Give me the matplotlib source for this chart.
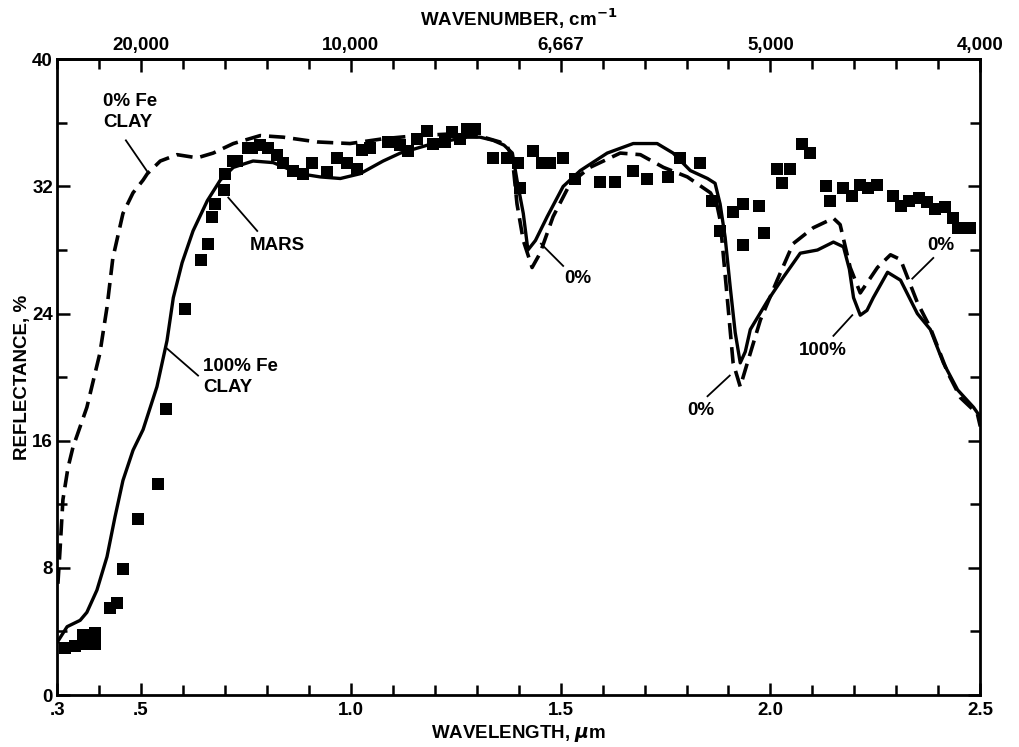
import matplotlib
matplotlib.use("Agg")
import matplotlib.pyplot as plt
import numpy as np

plt.rcParams['font.family'] = ['Liberation Sans', 'DejaVu Sans']
plt.rcParams['font.weight'] = 'bold'

# ---- data ----
mars_wl = [0.319, 0.343, 0.362, 0.362, 0.391, 0.391, 0.426, 0.443, 0.457, 0.493, 0.541,
           0.560, 0.605, 0.643, 0.660, 0.669, 0.677, 0.698, 0.700, 0.720, 0.729, 0.755,
           0.765, 0.784, 0.803, 0.824, 0.839, 0.863, 0.886, 0.908, 0.944, 0.967, 0.991,
           1.015, 1.027, 1.046, 1.089, 1.118, 1.137, 1.158, 1.182, 1.196, 1.225, 1.242,
           1.261, 1.277, 1.296, 1.339, 1.373, 1.399, 1.404, 1.435, 1.456, 1.475, 1.506,
           1.535, 1.594, 1.630, 1.673, 1.706, 1.756, 1.785, 1.833, 1.861, 1.880, 1.911,
           1.935, 1.935, 1.973, 1.985, 2.016, 2.028, 2.047, 2.076, 2.095, 2.133, 2.143,
           2.174, 2.195, 2.214, 2.233, 2.255, 2.293, 2.310, 2.329, 2.353, 2.374, 2.393,
           2.417, 2.436, 2.448, 2.476]
mars_refl = [2.96, 3.1, 3.8, 3.2, 3.9, 3.2, 5.5, 5.8, 7.9, 11.1, 13.3,
             18.0, 24.3, 27.4, 28.4, 30.1, 30.9, 31.8, 32.8, 33.6, 33.6, 34.4,
             34.4, 34.6, 34.4, 34.0, 33.5, 33.0, 32.8, 33.5, 32.9, 33.8, 33.5,
             33.1, 34.3, 34.4, 34.8, 34.6, 34.2, 35.0, 35.5, 34.7, 34.8, 35.4,
             35.0, 35.6, 35.6, 33.8, 33.8, 33.5, 31.9, 34.2, 33.5, 33.5, 33.8,
             32.5, 32.3, 32.3, 33.0, 32.5, 32.6, 33.8, 33.5, 31.1, 29.2, 30.4,
             30.9, 28.3, 30.8, 29.1, 33.1, 32.2, 33.1, 34.7, 34.1, 32.0, 31.1,
             31.9, 31.4, 32.1, 31.9, 32.1, 31.4, 30.8, 31.1, 31.3, 31.0, 30.6,
             30.7, 30.0, 29.4, 29.4]

clay100_wl = [0.300, 0.324, 0.355, 0.371, 0.395, 0.419, 0.438, 0.457, 0.481, 0.505,
              0.538, 0.562, 0.577, 0.598, 0.624, 0.658, 0.689, 0.720, 0.767, 0.815,
              0.879, 0.927, 0.975, 1.022, 1.077, 1.118, 1.196, 1.277, 1.308, 1.339,
              1.365, 1.385, 1.396, 1.411, 1.422, 1.440, 1.468, 1.506, 1.547, 1.611,
              1.673, 1.730, 1.768, 1.809, 1.850, 1.868, 1.880, 1.892, 1.904, 1.916,
              1.928, 1.940, 1.952, 1.993, 2.031, 2.071, 2.112, 2.150, 2.174, 2.188,
              2.198, 2.214, 2.230, 2.245, 2.279, 2.310, 2.350, 2.381, 2.412, 2.446,
              2.484, 2.500]
clay100_refl = [3.3, 4.3, 4.7, 5.2, 6.6, 8.7, 11.2, 13.5, 15.4, 16.7,
                19.4, 22.3, 25.0, 27.2, 29.2, 31.1, 32.4, 33.2, 33.6, 33.5,
                32.8, 32.6, 32.5, 32.8, 33.6, 34.1, 34.7, 35.1, 35.1, 34.9,
                34.6, 34.1, 32.4, 30.3, 28.0, 28.6, 30.1, 32.0, 33.0, 34.1,
                34.7, 34.7, 34.1, 33.0, 32.5, 32.2, 30.9, 28.8, 25.7, 22.8,
                20.9, 21.6, 23.0, 24.8, 26.3, 27.8, 28.0, 28.5, 28.2, 26.8,
                25.0, 23.9, 24.2, 25.0, 26.6, 26.1, 24.0, 23.0, 20.9, 19.2,
                18.1, 17.5]

clay0_wl = [0.302, 0.307, 0.314, 0.326, 0.338, 0.371, 0.402, 0.419, 0.433, 0.457,
            0.481, 0.505, 0.515, 0.546, 0.586, 0.634, 0.672, 0.720, 0.784, 0.839,
            0.920, 0.998, 1.077, 1.158, 1.237, 1.316, 1.355, 1.373, 1.385, 1.396,
            1.411, 1.432, 1.451, 1.482, 1.523, 1.570, 1.642, 1.690, 1.745, 1.802,
            1.857, 1.872, 1.880, 1.897, 1.911, 1.928, 1.945, 1.976, 2.016, 2.054,
            2.102, 2.150, 2.166, 2.190, 2.214, 2.255, 2.286, 2.310, 2.350, 2.381,
            2.422, 2.453, 2.493, 2.500]
clay0_refl = [7.0, 9.1, 12.3, 14.3, 15.6, 18.1, 21.5, 24.4, 27.5, 30.3,
              31.6, 32.4, 32.8, 33.6, 34.0, 33.8, 34.1, 34.7, 35.2, 35.1,
              34.8, 34.7, 35.0, 35.2, 35.3, 35.1, 34.8, 34.5, 33.8, 30.9,
              28.6, 26.9, 27.8, 30.1, 32.2, 33.2, 34.1, 34.0, 33.2, 32.6,
              31.6, 30.9, 29.9, 25.0, 20.9, 19.4, 20.9, 23.6, 26.1, 28.4,
              29.4, 30.0, 29.6, 26.9, 25.3, 26.9, 27.7, 27.4, 24.7, 23.1,
              20.3, 18.7, 17.7, 16.9]

top_tick_wl = [0.5, 1.0, 1.5, 2.0, 2.5]
top_tick_labels = ['20,000', '10,000', '6,667', '5,000', '4,000']
bottom_tick_wl = [0.3, 0.5, 1.0, 1.5, 2.0, 2.5]
bottom_tick_labels = ['.3', '.5', '1.0', '1.5', '2.0', '2.5']
y_ticks = [0, 8, 16, 24, 32, 40]

# ---- figure ----
fs = 13.5
fig = plt.figure(figsize=(10.19, 7.47), dpi=100)
ax = fig.add_axes([0.056, 0.0696, 0.906, 0.851])

ax.plot(clay0_wl, clay0_refl, color='black', lw=2.6, ls=(0, (4.5, 2.2)))
ax.plot(clay100_wl, clay100_refl, color='black', lw=2.4, ls='-')
ax.scatter(mars_wl, mars_refl, marker='s', s=72, color='black', linewidths=0, zorder=3)

ax.set_xlim(0.3, 2.5)
ax.set_ylim(0, 40)

ax.set_xticks(bottom_tick_wl)
ax.set_xticklabels(bottom_tick_labels)
ax.set_xticks(np.arange(0.3, 2.5001, 0.1), minor=True)
ax.set_yticks(y_ticks)
ax.set_yticks(np.arange(0, 40.01, 4), minor=True)

ax.tick_params(axis='both', which='both', direction='in', width=1.8, labelsize=fs,
               top=False, right=True, labelright=False)
ax.tick_params(axis='both', which='major', length=9)
ax.tick_params(axis='both', which='minor', length=7)
ax.tick_params(axis='x', which='major', pad=5)
ax.tick_params(axis='y', which='major', pad=3)
for lab in ax.get_xticklabels() + ax.get_yticklabels():
    lab.set_fontweight('bold')

for sp in ax.spines.values():
    sp.set_linewidth(2.0)

sec = ax.secondary_xaxis('top')
sec.set_xticks(top_tick_wl)
sec.set_xticklabels(top_tick_labels)
sec.set_xticks(np.arange(0.3, 2.5001, 0.1), minor=True)
sec.tick_params(axis='x', which='both', direction='in', width=1.8, labelsize=fs, pad=4)
sec.tick_params(axis='x', which='major', length=9)
sec.tick_params(axis='x', which='minor', length=7)
sec.spines['top'].set_linewidth(2.0)
for lab in sec.get_xticklabels():
    lab.set_fontweight('bold')
sec.set_xlabel('WAVENUMBER, cm$^{\\mathbf{-1}}$', fontsize=fs, fontweight='bold', labelpad=8)

ax.set_xlabel('WAVELENGTH, $\\mu$m', fontsize=fs, fontweight='bold', labelpad=3)
ax.set_ylabel('REFLECTANCE, %', fontsize=fs, fontweight='bold', labelpad=1)

# ---- annotations ----
ax.text(0.41, 36.7, '0% Fe\nCLAY', fontsize=fs, fontweight='bold', ha='left', va='center',
        linespacing=1.3)
ax.plot([0.464, 0.516], [34.9, 32.9], color='black', lw=1.3)

ax.text(0.76, 28.3, 'MARS', fontsize=fs, fontweight='bold', ha='left', va='center')
ax.plot([0.708, 0.777], [31.3, 29.2], color='black', lw=1.3)

ax.text(0.648, 20.0, '100% Fe\nCLAY', fontsize=fs, fontweight='bold', ha='left', va='center',
        linespacing=1.3)
ax.plot([0.562, 0.636], [21.8, 20.1], color='black', lw=1.3)

ax.text(1.542, 26.2, '0%', fontsize=fs, fontweight='bold', ha='center', va='center')
ax.plot([1.453, 1.506], [28.4, 27.0], color='black', lw=1.3)

ax.text(1.833, 17.9, '0%', fontsize=fs, fontweight='bold', ha='center', va='center')
ax.plot([1.850, 1.903], [18.8, 20.1], color='black', lw=1.3)

ax.text(2.124, 21.7, '100%', fontsize=fs, fontweight='bold', ha='center', va='center')
ax.plot([2.150, 2.195], [22.6, 23.9], color='black', lw=1.3)

ax.text(2.405, 28.3, '0%', fontsize=fs, fontweight='bold', ha='center', va='center')
ax.plot([2.388, 2.338], [27.5, 26.2], color='black', lw=1.3)

fig.savefig('out.png', dpi=100)
